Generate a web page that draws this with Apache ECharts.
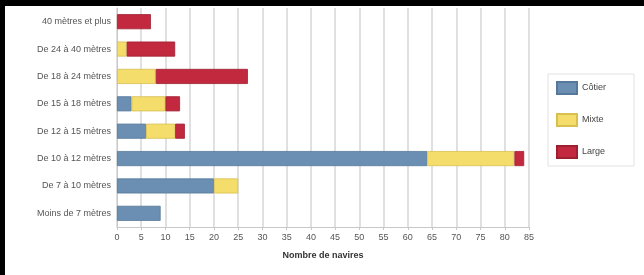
<!DOCTYPE html>
<html><head><meta charset="utf-8">
<script src="https://cdn.jsdelivr.net/npm/echarts@6/dist/echarts.min.js"></script>
<style>html,body{margin:0;padding:0;background:#fff;}#c{width:644px;height:275px;}</style>
</head><body><div id="c"></div>
<script>
const categories = ["40 mètres et plus","De 24 à 40 mètres","De 18 à 24 mètres","De 15 à 18 mètres","De 12 à 15 mètres","De 10 à 12 mètres","De 7 à 10 mètres","Moins de 7 mètres"];
const seriesNames = ["Côtier","Mixte","Large"];
const cotier = [0,0,0,3,6,64,20,9];
const mixte  = [0,2,8,7,6,18,5,0];
const large  = [7,10,19,3,2,2,0,0];
const xTicks = {min:0,max:85,interval:5};
const colors = ["#6b8fb2","#f5dd6c","#c2293f"];
const borders = ["#56789a","#d8bf50","#9e1f32"];
const chart = echarts.init(document.getElementById('c'));
const data = [cotier,mixte,large];
chart.setOption({
  animation:false,
  textStyle:{fontFamily:'Liberation Sans, Arial, sans-serif'},
  graphic:[
    {type:'rect',shape:{x:0,y:0,width:644,height:6},style:{fill:'#000'},z:100},
    {type:'rect',shape:{x:0,y:0,width:5,height:275},style:{fill:'#000'},z:100}
  ],
  grid:{left:117,right:115,top:8,bottom:48,containLabel:false},
  legend:{
    orient:'vertical',left:548,top:74,
    data:seriesNames.map(n=>({name:n,icon:'rect'})),
    itemWidth:20,itemHeight:12,itemGap:18,
    padding:[7,28,7,8],
    borderColor:'#e2e2e2',borderWidth:1,
    textStyle:{fontSize:9,color:'#444'}
  },
  xAxis:{
    type:'value',min:xTicks.min,max:xTicks.max,interval:xTicks.interval,
    name:'Nombre de navires',nameLocation:'middle',nameGap:24,
    nameTextStyle:{fontSize:9,fontWeight:'bold',color:'#333'},
    axisLine:{show:true,lineStyle:{color:'#c8c8c8'}},
    axisTick:{show:true,length:3,lineStyle:{color:'#c8c8c8'}},
    axisLabel:{fontSize:9,color:'#555',margin:6},
    splitLine:{show:true,lineStyle:{color:'#d6d6d6',width:1.5}}
  },
  yAxis:{
    type:'category',data:categories,inverse:true,
    axisLine:{show:true,lineStyle:{color:'#c8c8c8'}},
    axisTick:{show:false},
    axisLabel:{fontSize:9,color:'#555',margin:6}
  },
  series:seriesNames.map((n,i)=>({
    name:n,type:'bar',stack:'t',data:data[i].map(v=>v===0?'-':v),barWidth:'55%',
    itemStyle:{color:colors[i],borderColor:borders[i],borderWidth:0.8}
  }))
});
</script></body></html>
